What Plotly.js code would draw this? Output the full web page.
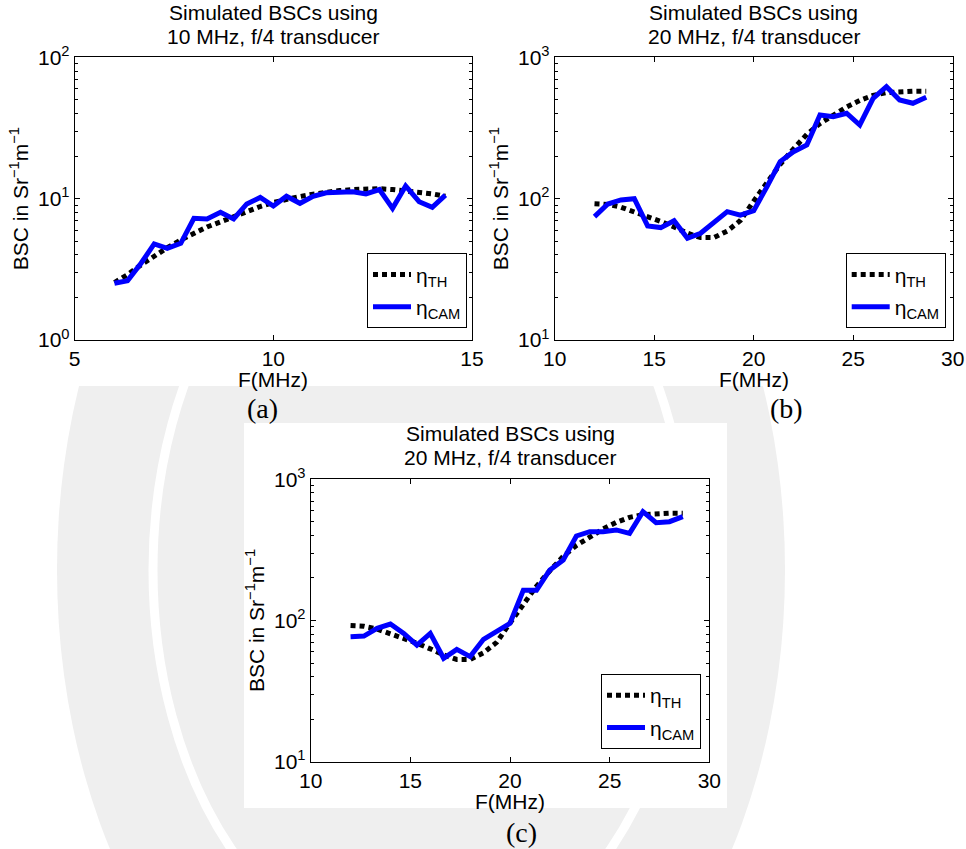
<!DOCTYPE html>
<html>
<head>
<meta charset="utf-8">
<script src="https://cdn.plot.ly/plotly-3.0.1.min.js"></script>
<style>
  html, body { margin: 0; padding: 0; background: #fff; }
  #chart { width: 966px; height: 849px; }
</style>
</head>
<body>
<div id="chart"></div>
<script>
// Frequencies (MHz) and backscatter coefficients (Sr^-1 m^-1)
const freqA = [6.00, 6.33, 6.67, 7.00, 7.33, 7.67, 8.00, 8.33, 8.67, 9.00, 9.33, 9.67, 10.00,
               10.33, 10.67, 11.00, 11.33, 11.67, 12.00, 12.33, 12.67, 13.00, 13.33, 13.67, 14.00, 14.33];
const thA   = [2.55, 2.9, 3.4, 3.95, 4.5, 5.1, 5.7, 6.3, 6.85, 7.45, 8.1, 8.8, 9.4,
               9.9, 10.35, 10.75, 11.1, 11.4, 11.6, 11.75, 11.75, 11.6, 11.4, 11.1, 10.8, 10.4];
const camA  = [2.52, 2.63, 3.49, 4.78, 4.45, 4.83, 7.26, 7.18, 8.0, 7.18, 9.17, 10.2, 8.87,
               10.4, 9.27, 10.4, 11.0, 11.05, 11.2, 10.8, 11.6, 8.54, 12.3, 9.52, 8.68, 10.6];

const freq20 = [12.00, 12.67, 13.33, 14.00, 14.67, 15.33, 16.00, 16.67, 17.33, 18.00, 18.67, 19.33, 20.00,
                20.67, 21.33, 22.00, 22.67, 23.33, 24.00, 24.67, 25.33, 26.00, 26.67, 27.33, 28.00, 28.67];
const th20   = [92, 91, 87, 81, 75, 69, 63, 57, 53, 53, 59, 70, 96,
                130, 175, 225, 285, 340, 390, 445, 495, 538, 562, 572, 575, 575];
const camB   = [74.6, 91.6, 97.9, 100, 64.1, 62.4, 69.8, 52.4, 56.9, 68.7, 80.9, 76.5, 82.2,
                121.7, 182.8, 215, 240, 391, 380, 402, 332, 513, 620, 499, 473, 521];
const camC   = [76.8, 77.6, 88, 94.4, 81, 67, 81, 54, 62.5, 55.5, 73.6, 83.4, 95.5,
                164, 164, 228, 268, 397, 426, 426, 438, 414, 590, 493, 501, 544];

const seriesNames = ['η<sub>TH</sub>', 'η<sub>CAM</sub>'];
const titleLine1 = 'Simulated BSCs using';
const titleLineA = '10 MHz, f/4 transducer';
const titleLine20 = '20 MHz, f/4 transducer';
const panelLabels = ['(a)', '(b)', '(c)'];
const xTicksA = [5, 10, 15];
const xTicks20 = [10, 15, 20, 25, 30];
const yTicksA = [1, 10, 100];
const yTextA = ['10<sup>0</sup>', '10<sup>1</sup>', '10<sup>2</sup>'];
const yTicks20 = [10, 100, 1000];
const yText20 = ['10<sup>1</sup>', '10<sup>2</sup>', '10<sup>3</sup>'];
const xTitle = 'F(MHz)';
const yTitle = 'BSC in Sr<sup>−1</sup>m<sup>−1</sup>';

// page geometry helpers (pixels -> paper fractions)
const W = 966, H = 849;
const px = v => v / W;
const py = v => 1 - v / H;

const boxes = {
  a: { l: 74.7, r: 472, t: 57.3, b: 340 },
  b: { l: 554.7, r: 952.7, t: 57.3, b: 340 },
  c: { l: 310.7, r: 709.3, t: 479.3, b: 761.7 }
};
const mid = b => (b.l + b.r) / 2;

const FONT = 'Liberation Sans, Arial, Helvetica, sans-serif';
const SERIF = 'Liberation Serif, Times New Roman, serif';
const FS = 21;      // axis text
const FT = 21;      // panel titles

function minorVals(decades) {
  const out = [];
  decades.forEach(d => { for (let k = 2; k <= 9; k++) out.push(k * d); });
  return out;
}

function xAxis(box, anchor, range, ticks) {
  return {
    domain: [px(box.l), px(box.r)], anchor: anchor, range: range,
    tickmode: 'array', tickvals: ticks, ticks: 'inside', ticklen: 5, tickwidth: 1, tickcolor: '#000',
    showline: true, linecolor: '#000', linewidth: 1, mirror: 'ticks',
    showgrid: false, zeroline: false, tickfont: { size: FS, family: FONT, color: '#000' },
    fixedrange: true
  };
}

function yAxis(box, anchor, range, ticks, text, decades) {
  return {
    domain: [py(box.b), py(box.t)], anchor: anchor, type: 'log', range: range,
    tickmode: 'array', tickvals: ticks, ticktext: text,
    ticks: 'inside', ticklen: 5, tickwidth: 1, tickcolor: '#000',
    minor: { tickmode: 'array', tickvals: minorVals(decades), ticks: 'inside', ticklen: 3, tickwidth: 1, tickcolor: '#000', showgrid: false },
    showline: true, linecolor: '#000', linewidth: 1, mirror: 'ticks',
    showgrid: false, zeroline: false, tickfont: { size: FS, family: FONT, color: '#000' },
    title: { text: yTitle, font: { size: FS, family: FONT, color: '#000' }, standoff: 3 },
    fixedrange: true
  };
}

function pair(x, th, cam, xa, ya, legendId) {
  return [
    { x: x, y: th, xaxis: xa, yaxis: ya, type: 'scatter', mode: 'lines', name: seriesNames[0],
      legend: legendId, legendgroup: legendId + 'th',
      line: { color: '#000', width: 5, dash: '5px,4px' }, hoverinfo: 'skip' },
    { x: x, y: cam, xaxis: xa, yaxis: ya, type: 'scatter', mode: 'lines', name: seriesNames[1],
      legend: legendId, legendgroup: legendId + 'cam',
      line: { color: '#0000ff', width: 5 }, hoverinfo: 'skip' }
  ];
}

const data = [].concat(
  pair(freqA, thA, camA, 'x', 'y', 'legend'),
  pair(freq20, th20, camB, 'x2', 'y2', 'legend2'),
  pair(freq20, th20, camC, 'x3', 'y3', 'legend3')
);

function legendAt(right, bottom) {
  return {
    x: px(right), y: py(bottom), xanchor: 'right', yanchor: 'bottom',
    bgcolor: '#fff', bordercolor: '#000', borderwidth: 1,
    font: { size: FS, family: FONT, color: '#000' }, itemwidth: 38,
    tracegroupgap: 2, traceorder: 'grouped', itemclick: false, itemdoubleclick: false
  };
}

function textAt(text, x, y, size, family) {
  return {
    text: text, xref: 'paper', yref: 'paper', x: px(x), y: py(y),
    xanchor: 'center', yanchor: 'middle', showarrow: false,
    font: { size: size, family: family, color: '#000' }
  };
}

// faint seal printed behind the figures, and the white panels the figures sit on
const sealGray = '#efefef';
const seal = { cx: 421, cy: 570, rx: 364, ry: 537 };
const sealInner = { rx: 268, ry: 395 };
function ellipse(rx, ry, fill, lineColor, lineWidth) {
  return {
    type: 'circle', xref: 'paper', yref: 'paper', layer: 'below',
    x0: px(seal.cx - rx), x1: px(seal.cx + rx), y0: py(seal.cy + ry), y1: py(seal.cy - ry),
    fillcolor: fill, line: { color: lineColor, width: lineWidth }
  };
}
function panel(l, t, r, b) {
  return {
    type: 'rect', xref: 'paper', yref: 'paper', layer: 'below',
    x0: px(l), x1: px(r), y0: py(b), y1: py(t), fillcolor: '#fff', line: { width: 0 }
  };
}

const layout = {
  width: W, height: H,
  margin: { l: 0, r: 0, t: 0, b: 0 },
  paper_bgcolor: '#fff', plot_bgcolor: '#fff',
  font: { family: FONT, size: FS, color: '#000' },
  xaxis: xAxis(boxes.a, 'y', [5, 15], xTicksA),
  yaxis: yAxis(boxes.a, 'x', [0, 2], yTicksA, yTextA, [1, 10]),
  xaxis2: xAxis(boxes.b, 'y2', [10, 30], xTicks20),
  yaxis2: yAxis(boxes.b, 'x2', [1, 3], yTicks20, yText20, [10, 100]),
  xaxis3: xAxis(boxes.c, 'y3', [10, 30], xTicks20),
  yaxis3: yAxis(boxes.c, 'x3', [1, 3], yTicks20, yText20, [10, 100]),
  legend: legendAt(467, 328.3),
  legend2: legendAt(945.7, 328.3),
  legend3: legendAt(701, 749),
  shapes: [
    ellipse(seal.rx, seal.ry, sealGray, sealGray, 0),
    ellipse(sealInner.rx, sealInner.ry, 'rgba(0,0,0,0)', '#ffffff', 9),
    panel(0, 0, W, 386),
    panel(244, 423, 727, 808)
  ],
  annotations: [
    textAt(titleLine1, mid(boxes.a), 12.5, FT, FONT),
    textAt(titleLineA, mid(boxes.a), 37, FT, FONT),
    textAt(titleLine1, mid(boxes.b), 12.5, FT, FONT),
    textAt(titleLine20, mid(boxes.b), 37, FT, FONT),
    textAt(titleLine1, mid(boxes.c), 433.5, FT, FONT),
    textAt(titleLine20, mid(boxes.c), 458, FT, FONT),
    textAt(xTitle, mid(boxes.a), 379, FS, FONT),
    textAt(xTitle, mid(boxes.b), 379, FS, FONT),
    textAt(xTitle, mid(boxes.c), 801.5, FS, FONT),
    textAt(panelLabels[0], 262, 408, 28, SERIF),
    textAt(panelLabels[1], 786, 408, 28, SERIF),
    textAt(panelLabels[2], 521, 832, 28, SERIF)
  ],
  showlegend: true
};

Plotly.newPlot('chart', data, layout, { displayModeBar: false, staticPlot: true });
</script>
</body>
</html>
